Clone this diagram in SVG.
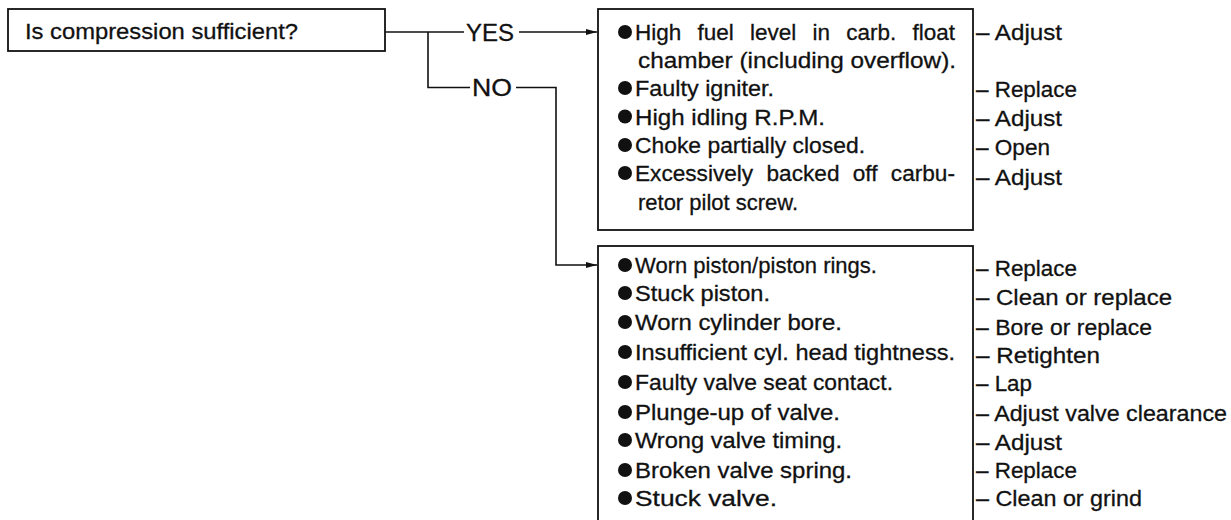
<svg xmlns="http://www.w3.org/2000/svg" width="1231" height="520" viewBox="0 0 1231 520">
<defs>
<style>
.t{font-family:"Liberation Sans",Arial,Helvetica,sans-serif;font-size:22.5px;fill:#111;stroke:#111;stroke-width:0.3}
.lb{font-family:"Liberation Sans",Arial,Helvetica,sans-serif;font-size:24px;fill:#111;stroke:#111;stroke-width:0.3}
.box{fill:#fff;stroke:#111;stroke-width:1.8}
.ln{fill:none;stroke:#111;stroke-width:1.6}
.b{fill:#111}
</style>
<marker id="arr" markerUnits="userSpaceOnUse" markerWidth="11" markerHeight="7" refX="11" refY="3.5" orient="auto">
<path d="M0,0.5 L11,3.5 L0,6.5 z" fill="#111"/>
</marker>
</defs>
<rect width="1231" height="520" fill="#fff"/>

<g id="connectors">
<path class="ln" d="M385,32 H464"/>
<path class="ln" d="M428,32 V87.5 H470"/>
<path class="ln" d="M519,32 H597" marker-end="url(#arr)"/>
<path class="ln" d="M516,87.5 H556 V265 H597" marker-end="url(#arr)"/>
<text class="lb" x="466" y="40.5" textLength="48" lengthAdjust="spacingAndGlyphs">YES</text>
<text class="lb" x="472" y="96" textLength="40" lengthAdjust="spacingAndGlyphs">NO</text>
</g>

<g id="question">
<rect class="box" x="8" y="9" width="377" height="42"/>
<text class="t" x="25" y="38.5" textLength="273" lengthAdjust="spacingAndGlyphs">Is compression sufficient?</text>
</g>

<g id="yes-causes">
<rect class="box" x="598" y="9" width="375" height="221"/>
<circle class="b" cx="625" cy="32" r="7"/>
<circle class="b" cx="625" cy="88" r="7"/>
<circle class="b" cx="625" cy="116.5" r="7"/>
<circle class="b" cx="625" cy="145" r="7"/>
<circle class="b" cx="625" cy="173" r="7"/>
<text class="t" x="635" y="40" textLength="320" lengthAdjust="spacingAndGlyphs" word-spacing="10">High fuel level in carb. float</text>
<text class="t" x="638" y="68" textLength="318" lengthAdjust="spacingAndGlyphs">chamber (including overflow).</text>
<text class="t" x="635" y="96" textLength="139" lengthAdjust="spacingAndGlyphs">Faulty igniter.</text>
<text class="t" x="635" y="124.5" textLength="190" lengthAdjust="spacingAndGlyphs">High idling R.P.M.</text>
<text class="t" x="635" y="153" textLength="230" lengthAdjust="spacingAndGlyphs">Choke partially closed.</text>
<text class="t" x="635" y="181" textLength="320" lengthAdjust="spacingAndGlyphs" word-spacing="7">Excessively backed off carbu-</text>
<text class="t" x="638" y="209.5" textLength="160" lengthAdjust="spacingAndGlyphs">retor pilot screw.</text>
</g>

<g id="yes-actions">
<text class="t" x="976" y="40" textLength="86" lengthAdjust="spacingAndGlyphs">– Adjust</text>
<text class="t" x="976" y="96.5" textLength="101" lengthAdjust="spacingAndGlyphs">– Replace</text>
<text class="t" x="976" y="125.5" textLength="86" lengthAdjust="spacingAndGlyphs">– Adjust</text>
<text class="t" x="976" y="155" textLength="74" lengthAdjust="spacingAndGlyphs">– Open</text>
<text class="t" x="976" y="185" textLength="86" lengthAdjust="spacingAndGlyphs">– Adjust</text>
</g>

<g id="no-causes">
<rect class="box" x="598" y="246" width="375" height="290"/>
<circle class="b" cx="625" cy="265" r="7"/>
<circle class="b" cx="625" cy="293" r="7"/>
<circle class="b" cx="625" cy="322" r="7"/>
<circle class="b" cx="625" cy="352" r="7"/>
<circle class="b" cx="625" cy="382" r="7"/>
<circle class="b" cx="625" cy="412" r="7"/>
<circle class="b" cx="625" cy="440" r="7"/>
<circle class="b" cx="625" cy="470" r="7"/>
<circle class="b" cx="625" cy="498" r="7"/>
<text class="t" x="635" y="273" textLength="242" lengthAdjust="spacingAndGlyphs">Worn piston/piston rings.</text>
<text class="t" x="635" y="301" textLength="135" lengthAdjust="spacingAndGlyphs">Stuck piston.</text>
<text class="t" x="635" y="330" textLength="207" lengthAdjust="spacingAndGlyphs">Worn cylinder bore.</text>
<text class="t" x="635" y="360" textLength="320" lengthAdjust="spacingAndGlyphs">Insufficient cyl. head tightness.</text>
<text class="t" x="635" y="390" textLength="258" lengthAdjust="spacingAndGlyphs">Faulty valve seat contact.</text>
<text class="t" x="635" y="420" textLength="205" lengthAdjust="spacingAndGlyphs">Plunge-up of valve.</text>
<text class="t" x="635" y="448" textLength="207" lengthAdjust="spacingAndGlyphs">Wrong valve timing.</text>
<text class="t" x="635" y="478" textLength="217" lengthAdjust="spacingAndGlyphs">Broken valve spring.</text>
<text class="t" x="635" y="506" textLength="142" lengthAdjust="spacingAndGlyphs">Stuck valve.</text>
</g>

<g id="no-actions">
<text class="t" x="976" y="276" textLength="101" lengthAdjust="spacingAndGlyphs">– Replace</text>
<text class="t" x="976" y="305" textLength="196" lengthAdjust="spacingAndGlyphs">– Clean or replace</text>
<text class="t" x="976" y="334.5" textLength="176" lengthAdjust="spacingAndGlyphs">– Bore or replace</text>
<text class="t" x="976" y="363" textLength="124" lengthAdjust="spacingAndGlyphs">– Retighten</text>
<text class="t" x="976" y="391" textLength="56" lengthAdjust="spacingAndGlyphs">– Lap</text>
<text class="t" x="976" y="420.5" textLength="251" lengthAdjust="spacingAndGlyphs">– Adjust valve clearance</text>
<text class="t" x="976" y="449.5" textLength="86" lengthAdjust="spacingAndGlyphs">– Adjust</text>
<text class="t" x="976" y="478" textLength="101" lengthAdjust="spacingAndGlyphs">– Replace</text>
<text class="t" x="976" y="506" textLength="166" lengthAdjust="spacingAndGlyphs">– Clean or grind</text>
</g>
</svg>
